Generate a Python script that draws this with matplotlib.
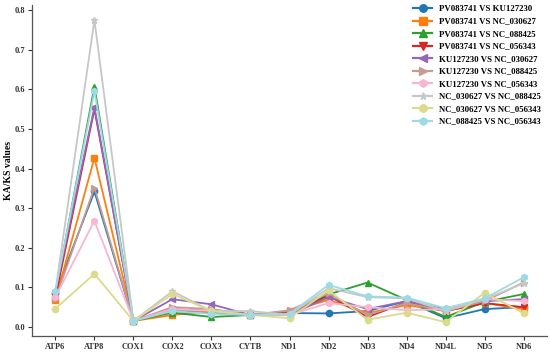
import matplotlib
matplotlib.use("Agg")
import matplotlib.pyplot as plt

genes = ["ATP6", "ATP8", "COX1", "COX2", "COX3", "CYTB", "ND1", "ND2", "ND3", "ND4", "ND4L", "ND5", "ND6"]

pv_ku = [0.085, 0.342, 0.015, 0.040, 0.035, 0.030, 0.035, 0.034, 0.040, 0.065, 0.022, 0.045, 0.050]
pv_030627 = [0.068, 0.427, 0.015, 0.030, 0.040, 0.030, 0.040, 0.068, 0.035, 0.055, 0.040, 0.060, 0.045]
pv_088425 = [0.085, 0.607, 0.015, 0.036, 0.025, 0.030, 0.035, 0.082, 0.112, 0.068, 0.025, 0.063, 0.083]
pv_056343 = [0.075, 0.550, 0.015, 0.045, 0.040, 0.030, 0.035, 0.078, 0.025, 0.062, 0.040, 0.060, 0.050]
ku_030627 = [0.090, 0.555, 0.015, 0.070, 0.057, 0.030, 0.030, 0.075, 0.045, 0.065, 0.045, 0.065, 0.070]
ku_088425 = [0.070, 0.352, 0.015, 0.050, 0.045, 0.030, 0.042, 0.085, 0.030, 0.060, 0.040, 0.065, 0.112]
ku_056343 = [0.075, 0.268, 0.015, 0.045, 0.040, 0.030, 0.030, 0.060, 0.050, 0.042, 0.045, 0.070, 0.065]
nc030_088 = [0.090, 0.775, 0.015, 0.090, 0.040, 0.040, 0.030, 0.098, 0.075, 0.072, 0.040, 0.070, 0.110]
nc030_056 = [0.046, 0.134, 0.015, 0.083, 0.040, 0.030, 0.022, 0.092, 0.018, 0.036, 0.012, 0.086, 0.035]
nc088_056 = [0.090, 0.595, 0.015, 0.040, 0.033, 0.030, 0.033, 0.106, 0.077, 0.074, 0.047, 0.072, 0.125]

series = [pv_ku, pv_030627, pv_088425, pv_056343, ku_030627,
          ku_088425, ku_056343, nc030_088, nc030_056, nc088_056]
labels = ["PV083741 VS KU127230", "PV083741 VS NC_030627", "PV083741 VS NC_088425",
          "PV083741 VS NC_056343", "KU127230 VS NC_030627", "KU127230 VS NC_088425",
          "KU127230 VS NC_056343", "NC_030627 VS NC_088425", "NC_030627 VS NC_056343",
          "NC_088425 VS NC_056343"]
colors = ["#1f77b4", "#ff7f0e", "#2ca02c", "#d62728", "#9467bd",
          "#c49c94", "#f7b6d2", "#c7c7c7", "#dbdb8d", "#9edae5"]
markers = ["o", "s", "^", "v", "<", ">", "h", "*", "o", "h"]
yticks = [0.0, 0.1, 0.2, 0.3, 0.4, 0.5, 0.6, 0.7, 0.8]

plt.rcParams["font.family"] = ["Liberation Serif", "DejaVu Serif"]
plt.rcParams["font.weight"] = "bold"

fig = plt.figure(figsize=(5.5, 3.54), dpi=100)
ax = fig.add_axes([32 / 550, 18 / 354, 515 / 550, 331 / 354])

x = list(range(len(genes)))
for vals, lab, c, m in zip(series, labels, colors, markers):
    ax.plot(x, vals, color=c, marker=m, markersize=4.5, linewidth=1.3, label=lab)

ax.set_xlim(-0.6, 12.6)
ax.set_ylim(-0.023, 0.813)
ax.set_xticks(x)
ax.set_xticklabels(genes, fontsize=6, fontweight="bold")
ax.set_yticks(yticks)
ax.set_yticklabels([f"{v:.1f}" for v in yticks], fontsize=6, fontweight="bold")
ax.set_ylabel("KA/KS values", fontsize=7, fontweight="bold", labelpad=1)
ax.tick_params(axis="both", length=3, width=0.8, pad=2, colors="#333333")
for s in ["top", "right"]:
    ax.spines[s].set_visible(False)
for s in ["left", "bottom"]:
    ax.spines[s].set_color("#555555")
    ax.spines[s].set_linewidth(0.9)

leg = ax.legend(loc="upper left", bbox_to_anchor=(413 / 550, 1 - 5 / 354),
                bbox_transform=fig.transFigure, frameon=False,
                borderpad=0, borderaxespad=0, labelspacing=0.5,
                handlelength=2.2, handletextpad=0.8, markerscale=1.2,
                prop={"weight": "bold", "size": 6.3})
for h in leg.get_lines():
    h.set_linewidth(1.6)

fig.savefig("out.png", dpi=100)
